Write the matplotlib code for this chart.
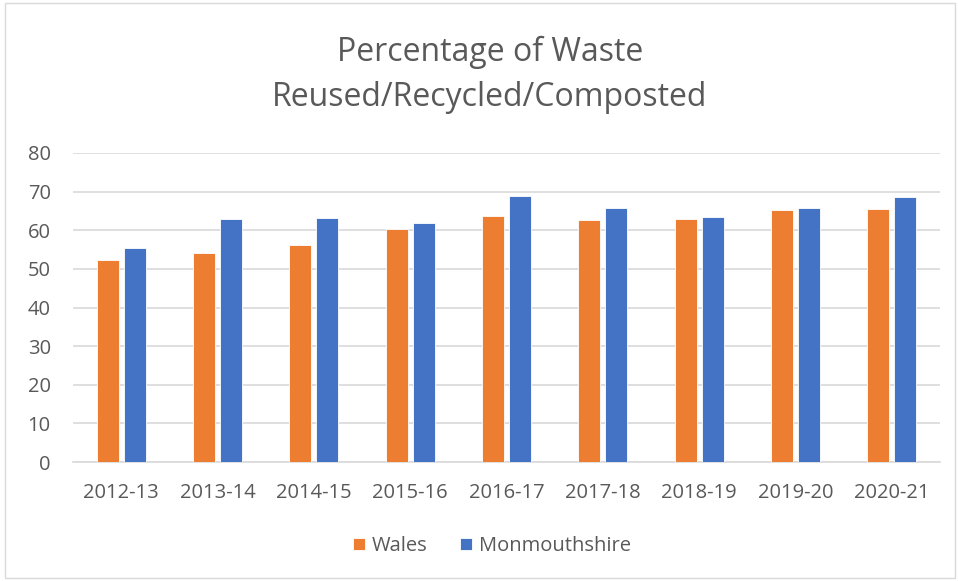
import matplotlib.pyplot as plt
import numpy as np
from matplotlib.patches import Rectangle

years = ['2012-13', '2013-14', '2014-15', '2015-16', '2016-17',
         '2017-18', '2018-19', '2019-20', '2020-21']
wales = [52.2, 54.2, 56.2, 60.2, 63.7, 62.7, 62.8, 65.2, 65.4]
monmouthshire = [55.4, 62.9, 63.2, 61.8, 68.8, 65.8, 63.4, 65.7, 68.5]

plt.rcParams['font.family'] = ['Open Sans', 'DejaVu Sans']
grey = '#595959'

fig = plt.figure(figsize=(9.58, 5.81), dpi=100)
ax = fig.add_axes([73 / 958, 1 - 462 / 581, 867 / 958, 309 / 581])

x = np.arange(len(years))
w = 0.23
ax.bar(x - 0.14, wales, w, color='#ED7D31', edgecolor='white', linewidth=0.6,
       label='Wales', zorder=3)
ax.bar(x + 0.14, monmouthshire, w, color='#4472C4', edgecolor='white', linewidth=0.6,
       label='Monmouthshire', zorder=3)

ax.set_xlim(-0.5, len(years) - 0.5)
ax.set_ylim(0, 80)
ax.set_yticks(range(0, 81, 10))
ax.set_xticks(x)
ax.set_xticklabels(years)
ax.grid(axis='y', color='#D9D9D9', linewidth=1.2, zorder=0)
for s in ['top', 'right', 'left']:
    ax.spines[s].set_visible(False)
ax.spines['bottom'].set_color('#D9D9D9')
ax.spines['bottom'].set_linewidth(1.2)
ax.tick_params(length=0, labelsize=14.5, colors=grey, pad=15)
ax.tick_params(axis='y', pad=16)

fig.text(490 / 958, 1 - 52 / 581, 'Percentage of Waste',
         ha='center', va='center', fontsize=23, color=grey)
fig.text(490 / 958, 1 - 98 / 581, 'Reused/Recycled/Composted',
         ha='center', va='center', fontsize=23, color=grey)

fig.legend(loc='center', bbox_to_anchor=(492 / 958, 1 - 546 / 581), ncol=2, frameon=False,
           fontsize=14.5, labelcolor=grey, handlelength=0.6, handleheight=0.6,
           handletextpad=0.35, columnspacing=1.6)

fig.patches.append(Rectangle((5 / 958, 3 / 581), 950 / 958, 575 / 581,
                             transform=fig.transFigure, fill=False,
                             edgecolor='#D9D9D9', linewidth=1))

fig.savefig('out.png', dpi=100)
